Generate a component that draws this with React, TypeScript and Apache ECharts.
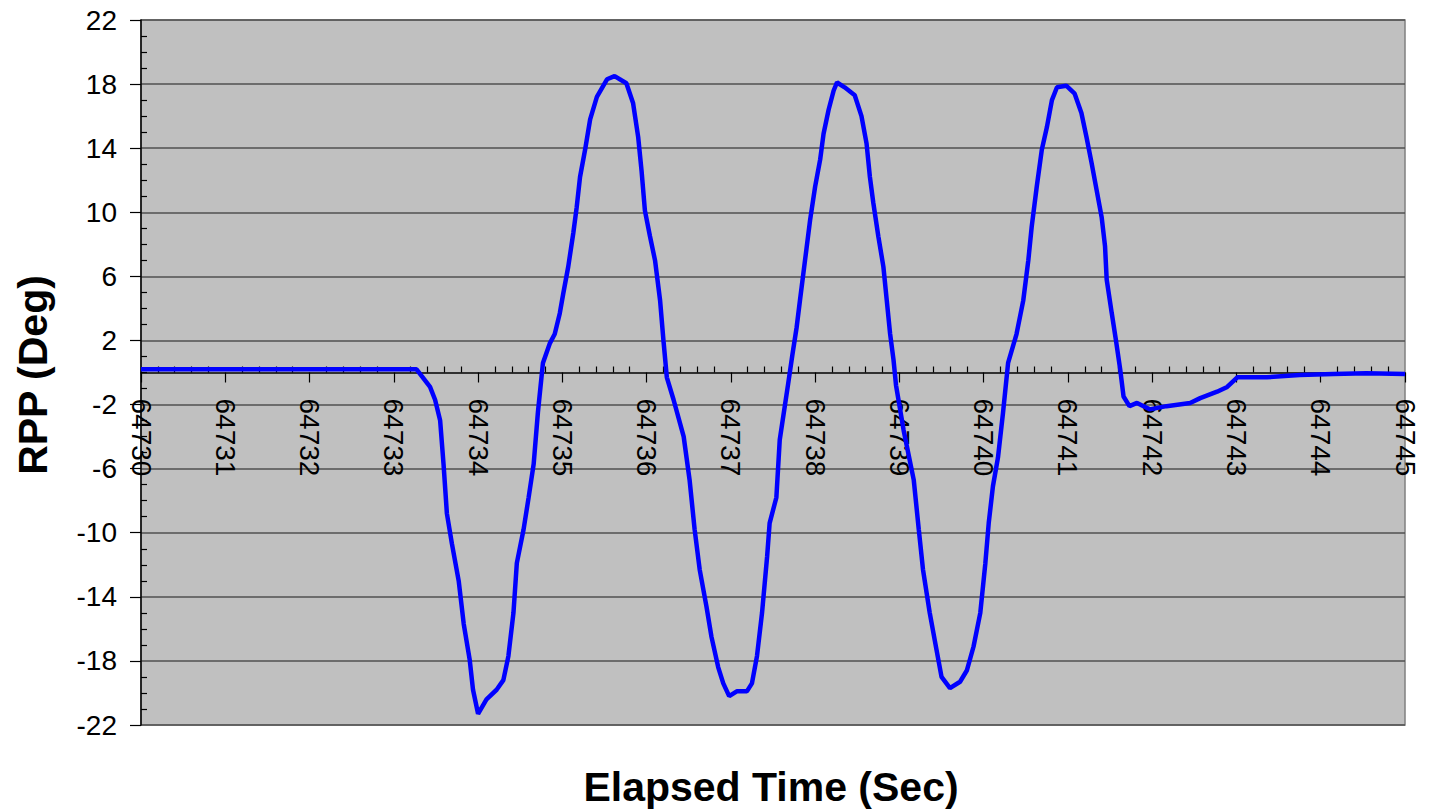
import React, { useEffect, useRef } from "react";
import * as echarts from "echarts";

const times: number[] = [
  64730.0, 64733.27, 64733.43, 64733.49, 64733.55, 64733.59, 64733.63, 64733.69, 64733.77, 64733.83,
  64733.9, 64733.94, 64734.0, 64734.1, 64734.22, 64734.3, 64734.36, 64734.42, 64734.46, 64734.54,
  64734.6, 64734.66, 64734.71, 64734.77, 64734.85, 64734.91, 64734.97, 64735.01, 64735.07, 64735.13,
  64735.17, 64735.21, 64735.27, 64735.33, 64735.41, 64735.53, 64735.62, 64735.76, 64735.84, 64735.9,
  64735.94, 64735.98, 64736.04, 64736.1, 64736.16, 64736.2, 64736.24, 64736.32, 64736.44, 64736.51,
  64736.57, 64736.63, 64736.71, 64736.77, 64736.85, 64736.91, 64736.98, 64737.07, 64737.19, 64737.25,
  64737.31, 64737.37, 64737.43, 64737.46, 64737.54, 64737.58, 64737.64, 64737.68, 64737.73, 64737.78,
  64737.82, 64737.88, 64737.94, 64738.0, 64738.06, 64738.1, 64738.16, 64738.22, 64738.26, 64738.35,
  64738.47, 64738.55, 64738.61, 64738.65, 64738.69, 64738.75, 64738.81, 64738.85, 64738.89, 64738.93,
  64738.96, 64739.05, 64739.17, 64739.23, 64739.28, 64739.36, 64739.44, 64739.5, 64739.6, 64739.72,
  64739.8, 64739.88, 64739.96, 64740.02, 64740.06, 64740.11, 64740.17, 64740.23, 64740.29, 64740.39,
  64740.47, 64740.53, 64740.57, 64740.63, 64740.69, 64740.75, 64740.81, 64740.87, 64740.98, 64741.08,
  64741.16, 64741.22, 64741.28, 64741.34, 64741.4, 64741.44, 64741.46, 64741.52, 64741.57, 64741.62,
  64741.66, 64741.73, 64741.82, 64741.97, 64742.17, 64742.45, 64742.57, 64742.77, 64742.89, 64743.01,
  64743.36, 64743.75, 64744.15, 64744.54, 64745.0,
];

const rppDeg: number[] = [
  0.2, 0.2, -0.9, -1.7, -3.0, -5.7, -8.8, -10.7, -13.0, -15.7,
  -17.9, -19.8, -21.3, -20.4, -19.8, -19.2, -17.7, -15.0, -11.9, -9.8,
  -7.8, -5.7, -2.5, 0.6, 1.8, 2.4, 3.7, 4.9, 6.6, 8.7,
  10.3, 12.2, 13.9, 15.8, 17.2, 18.3, 18.5, 18.05, 16.8, 14.7,
  12.6, 10.1, 8.5, 7.0, 4.5, 2.0, -0.3, -1.7, -4.0, -6.7,
  -9.8, -12.3, -14.6, -16.5, -18.4, -19.4, -20.2, -19.9, -19.9, -19.4,
  -17.7, -15.0, -11.5, -9.4, -7.8, -4.2, -2.1, -0.7, 1.1, 2.8,
  4.5, 7.0, 9.5, 11.6, 13.3, 14.9, 16.4, 17.6, 18.1, 17.8,
  17.3, 16.0, 14.3, 12.2, 10.6, 8.5, 6.6, 4.5, 2.4, 0.8,
  -0.8, -3.6, -6.7, -9.8, -12.3, -15.0, -17.3, -19.0, -19.7, -19.3,
  -18.6, -17.1, -15.0, -11.9, -9.4, -7.1, -5.3, -2.5, 0.6, 2.4,
  4.5, 7.0, 9.1, 11.6, 13.9, 15.3, 17.0, 17.8, 17.9, 17.4,
  16.2, 14.7, 13.1, 11.4, 9.7, 7.9, 5.8, 3.7, 2.0, 0.2,
  -1.5, -2.1, -1.9, -2.3, -2.1, -1.9, -1.6, -1.2, -0.9, -0.3,
  -0.3, -0.15, -0.1, -0.05, -0.1,
];

const xMin = 64730;
const xMax = 64745;
const xStep = 1;
const yMin = -22;
const yMax = 22;
const yStep = 4;

const xTitle = "Elapsed Time (Sec)";
const yTitle = "RPP (Deg)";

const FONT = "'Liberation Sans', Arial, sans-serif";

const GRID_TOP = 20;
const GRID_BOTTOM = 87;
const CHART_H = 812;

export default function App() {
  const ref = useRef<HTMLDivElement>(null);

  useEffect(() => {
    document.body.style.margin = "0";
    if (!ref.current) return;
    const chart = echarts.init(ref.current, null, { renderer: "svg" });
    const data = times.map((t, i) => [t, rppDeg[i]]);

    // distance from grid bottom edge to the y = 0 line
    const plotH = CHART_H - GRID_TOP - GRID_BOTTOM;
    const zeroOffset = -plotH * ((0 - yMin) / (yMax - yMin));

    const option: any = {
      animation: false,
      backgroundColor: "#ffffff",
      grid: {
        left: 141,
        right: 29,
        top: GRID_TOP,
        bottom: GRID_BOTTOM,
        show: true,
        backgroundColor: "#C0C0C0",
        borderColor: "#808080",
        borderWidth: 1.5,
        containLabel: false,
        outerBoundsMode: "none",
      },
      xAxis: [
        {
          type: "value",
          min: xMin,
          max: xMax,
          interval: xStep,
          position: "bottom",
          offset: zeroOffset,
          axisLine: { show: true, onZero: false, lineStyle: { color: "#000", width: 1.5 } },
          axisTick: { show: true, inside: false, length: 10, lineStyle: { color: "#000", width: 1.2 } },
          minorTick: { show: false },
          splitLine: { show: false },
          axisLabel: {
            show: true,
            rotate: -90,
            margin: 26,
            fontSize: 28,
            color: "#000",
            fontFamily: FONT,
            showMinLabel: true,
            showMaxLabel: true,
            hideOverlap: false,
            formatter: (v: number) => String(Math.round(v)),
          },
        },
        {
          type: "value",
          min: xMin,
          max: xMax,
          interval: xStep,
          position: "bottom",
          offset: zeroOffset,
          axisLine: { show: false, onZero: false },
          axisTick: { show: false, inside: true },
          minorTick: { show: true, splitNumber: 5, length: 6, lineStyle: { color: "#000", width: 1.2 } },
          splitLine: { show: false },
          axisLabel: { show: false },
        },
      ],
      yAxis: [
        {
          type: "value",
          min: yMin,
          max: yMax,
          interval: yStep,
          position: "left",
          axisLine: { show: true, onZero: false, lineStyle: { color: "#000", width: 1.5 } },
          axisTick: { show: true, inside: false, length: 11, lineStyle: { color: "#000", width: 1.2 } },
          minorTick: { show: false },
          splitLine: { show: true, lineStyle: { color: "#505050", width: 1.5 } },
          axisLabel: {
            margin: 24,
            fontSize: 28,
            color: "#000",
            fontFamily: FONT,
            showMinLabel: true,
            showMaxLabel: true,
          },
        },
        {
          type: "value",
          min: yMin,
          max: yMax,
          interval: yStep,
          position: "left",
          axisLine: { show: false, onZero: false },
          axisTick: { show: false, inside: true },
          minorTick: { show: true, splitNumber: 4, length: 6, lineStyle: { color: "#000", width: 1.2 } },
          splitLine: { show: false },
          axisLabel: { show: false },
        },
      ],
      graphic: [
        {
          type: "text",
          x: 33,
          y: 375,
          rotation: Math.PI / 2,
          style: {
            text: yTitle,
            font: `bold 41px ${FONT}`,
            fill: "#000",
            textAlign: "center",
            textVerticalAlign: "middle",
          },
        },
        {
          type: "text",
          x: 771,
          y: 787,
          style: {
            text: xTitle,
            font: `bold 41px ${FONT}`,
            fill: "#000",
            textAlign: "center",
            textVerticalAlign: "middle",
          },
        },
      ],
      series: [
        {
          type: "line",
          xAxisIndex: 0,
          yAxisIndex: 0,
          data,
          showSymbol: false,
          symbol: "none",
          smooth: false,
          lineStyle: { color: "#0000FF", width: 4.5 },
          z: 5,
        },
      ],
    };
    chart.setOption(option);
    return () => chart.dispose();
  }, []);

  return <div ref={ref} style={{ width: 1434, height: 812 }} />;
}
